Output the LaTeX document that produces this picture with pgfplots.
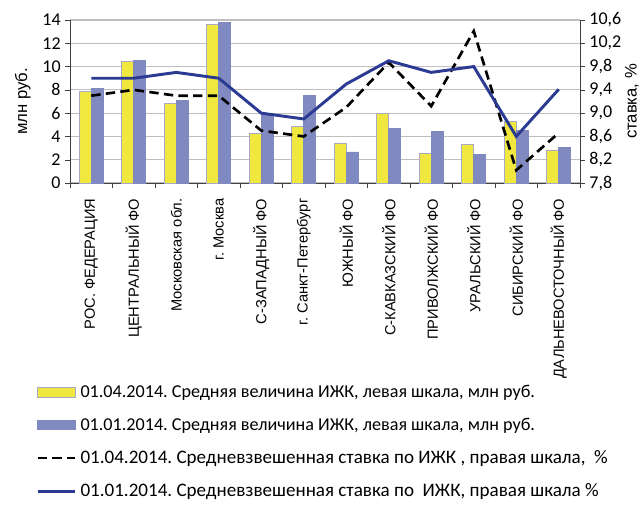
\documentclass[border=0pt]{standalone}
\usepackage{pgfplots}
\pgfplotsset{compat=1.18}
\usepackage{fontspec}
\setmainfont{Carlito}
\newfontfamily\arial{Liberation Sans}
\frenchspacing
\definecolor{barY}{HTML}{F0E83E}
\definecolor{barYedge}{HTML}{A8A8C8}
\definecolor{barB}{HTML}{8189C1}
\definecolor{lineB}{HTML}{2B3A93}
\definecolor{gridc}{HTML}{BFBFBF}
\pgfplotsset{
  barleg/.style={legend image code/.code={\draw[##1] (0pt,-3.7pt) rectangle (28pt,3.7pt);}},
  lineleg/.style={legend image code/.code={\draw[##1] (0pt,0pt) -- (28pt,0pt);}},
}

\pgfplotstableread{
x y14 y13 r14 r13
0 7.90 8.13 9.30 9.60
1 10.43 10.52 9.40 9.60
2 6.84 7.07 9.30 9.70
3 13.62 13.79 9.30 9.60
4 4.25 5.90 8.70 9.00
5 4.83 7.53 8.60 8.90
6 3.45 2.67 9.10 9.50
7 5.98 4.68 9.87 9.90
8 2.53 4.40 9.12 9.70
9 3.28 2.47 10.41 9.80
10 5.32 4.54 8.02 8.60
11 2.84 3.07 8.66 9.41
}\data

\begin{document}
\begin{tikzpicture}
\useasboundingbox (-52.5pt,-240.75pt) rectangle (426.75pt,137.25pt);
\begin{axis}[
  at={(0,0)}, anchor=south west,
  scale only axis, width=382.5pt, height=122.25pt,
  xmin=-0.5, xmax=11.5, ymin=0, ymax=14,
  ytick={0,2,...,14},
  axis x line*=bottom, axis y line*=left,
  axis line style={-, black!75},
  ybar=0pt, bar width=9pt,
  xtick={0,...,11},
  xticklabels={РОС. ФЕДЕРАЦИЯ, ЦЕНТРАЛЬНЫЙ ФО, Московская обл., г. Москва, С-ЗАПАДНЫЙ ФО, г. Санкт-Петербург, ЮЖНЫЙ ФО, С-КАВКАЗСКИЙ ФО, ПРИВОЛЖСКИЙ ФО, УРАЛЬСКИЙ ФО, СИБИРСКИЙ ФО, ДАЛЬНЕВОСТОЧНЫЙ ФО},
  x tick label style={rotate=90, anchor=east, font=\arial\fontsize{11}{13}\selectfont, inner sep=0pt, xshift=-8pt},
  major x tick style={draw=none},
  minor xtick={-0.5,0.5,...,11.5},
  minor x tick style={black!75},
  minor tick length=3.5pt,
  major tick length=3.5pt,
  tick align=outside,
  y tick style={black!75},
  ymajorgrids, grid style={gridc, line width=0.8pt},
  y tick label style={font=\fontsize{13.5}{15}\selectfont},
  /pgf/number format/assume math mode=true,
  ylabel={\arial\fontsize{12.5}{14}\selectfont млн руб.},
  ylabel style={yshift=2pt},
]
\addplot[fill=barY, draw=barYedge, line width=0.5pt] table[x=x, y=y14] {\data};
\addplot[fill=barB, draw=barB, line width=0.5pt] table[x=x, y=y13] {\data};
\end{axis}
\begin{axis}[
  at={(0,0)}, anchor=south west,
  scale only axis, width=382.5pt, height=122.25pt,
  xmin=-0.5, xmax=11.5, ymin=7.8, ymax=10.6,
  ytick={7.8,8.2,8.6,9.0,9.4,9.8,10.2,10.6},
  axis y line*=right, axis x line=none,
  axis line style={-, black!75},
  tick align=outside, major tick length=3.5pt,
  y tick style={black!75},
  y tick label style={font=\fontsize{13.5}{15}\selectfont, /pgf/number format/.cd, fixed, fixed zerofill, precision=1, use comma},
  /pgf/number format/assume math mode=true,
  ylabel={\arial\fontsize{12.5}{14}\selectfont ставка, \%},
  ylabel style={yshift=4pt},
  legend style={at={(axis description cs:-0.0667,-1.221)}, anchor=north west, draw=none, fill=none,
    font=\fontsize{14.3}{16}\selectfont, row sep=9.8pt, inner sep=0pt, cells={anchor=west},
    nodes={inner xsep=3pt}},
  legend cell align=left,
]
\addlegendimage{fill=barY, draw=barYedge, line width=0.5pt, barleg}
\addlegendimage{fill=barB, draw=barB, line width=0.5pt, barleg}
\addplot[black, line width=2pt, dash pattern=on 7pt off 4pt, lineleg] table[x=x, y=r14] {\data};
\addplot[lineB, line width=2.2pt, lineleg] table[x=x, y=r13] {\data};
\legend{{\fontsize{13.6}{16}\selectfont 01.04.2014. Средняя величина ИЖК, левая шкала, млн руб.},
        {\fontsize{13.6}{16}\selectfont 01.01.2014. Средняя величина ИЖК, левая шкала, млн руб.},
        01.04.2014. Средневзвешенная ставка по ИЖК {,} правая шкала{,}\ \ \%,
        01.01.2014. Средневзвешенная ставка по\ \ ИЖК{,} правая шкала \%}
\end{axis}
\end{tikzpicture}
\end{document}
